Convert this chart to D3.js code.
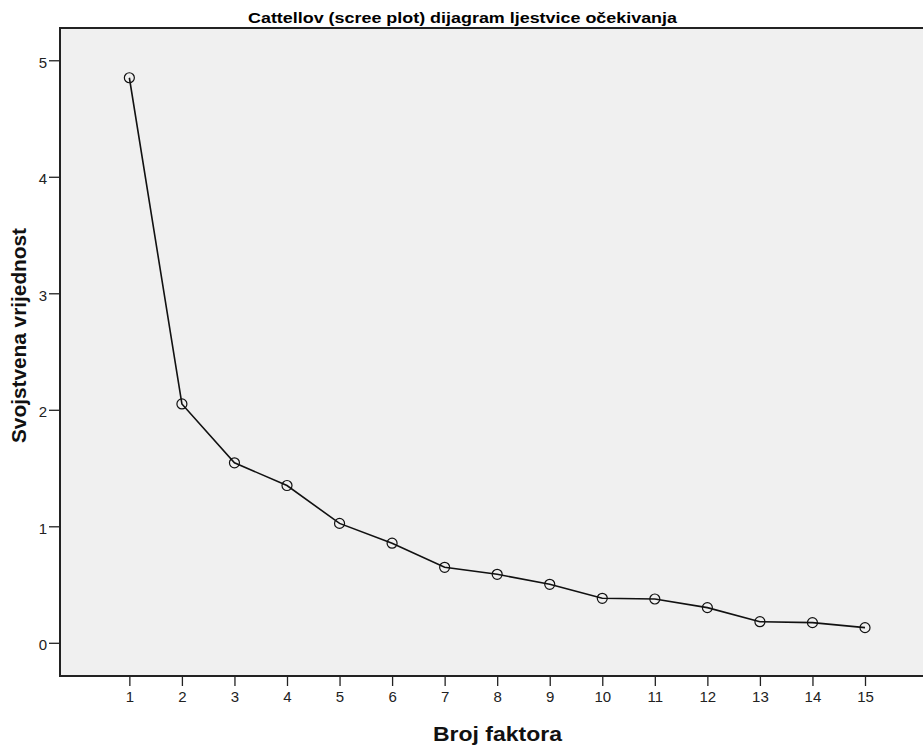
<!DOCTYPE html>
<html><head><meta charset="utf-8">
<script src="https://cdn.jsdelivr.net/npm/d3@7"></script>
<style>body{margin:0;background:#fff}svg{display:block}text{font-family:Arial,"Liberation Sans",sans-serif}</style>
</head><body><svg id="c" width="923" height="747"></svg>
<script>
const factors = [1,2,3,4,5,6,7,8,9,10,11,12,13,14,15];
const eigenvalues = [4.85,2.05,1.545,1.35,1.025,0.855,0.648,0.588,0.502,0.382,0.376,0.302,0.181,0.173,0.130];
const yTicks = [0,1,2,3,4,5];
const title = "Cattellov (scree plot) dijagram ljestvice očekivanja";
const xTitle = "Broj faktora";
const yTitle = "Svojstvena vrijednost";

const svg = d3.select("#c");
const L=60, T=28, R=923, B=676;
const x = d3.scaleLinear().domain([-0.32, 15.0+ (R-865)/52.55]).range([L,R]);
const y = d3.scaleLinear().domain([-0.285, 5.277]).range([B,T]);

svg.append("rect").attr("x",L).attr("y",T).attr("width",R-L).attr("height",B-T).attr("fill","#f0f0f0");

const xa = svg.append("g").attr("transform",`translate(0,${B})`)
  .call(d3.axisBottom(x).tickValues(factors).tickSize(10).tickPadding(5).tickFormat(d3.format("d")));
xa.select(".domain").remove();
xa.selectAll("line").attr("stroke","#222").attr("stroke-width",1.3);
xa.selectAll("text").attr("font-size",15).attr("fill","#222");

const ya = svg.append("g").attr("transform",`translate(${L},0)`)
  .call(d3.axisLeft(y).tickValues(yTicks).tickSize(11).tickPadding(2).tickFormat(d3.format("d")));
ya.select(".domain").remove();
ya.selectAll("line").attr("stroke","#222").attr("stroke-width",1.3);
ya.selectAll("text").attr("font-size",15).attr("fill","#222").attr("dy","0.45em");

svg.append("line").attr("x1",L).attr("x2",R).attr("y1",T).attr("y2",T).attr("stroke","#222").attr("stroke-width",2);
svg.append("line").attr("x1",L).attr("x2",R).attr("y1",B).attr("y2",B).attr("stroke","#222").attr("stroke-width",2);
svg.append("line").attr("x1",L).attr("x2",L).attr("y1",T-1).attr("y2",B+1).attr("stroke","#222").attr("stroke-width",2);

const data = factors.map((f,i)=>({f,v:eigenvalues[i]}));
svg.append("path").datum(data)
  .attr("d", d3.line().x(d=>x(d.f)).y(d=>y(d.v)))
  .attr("fill","none").attr("stroke","#111").attr("stroke-width",1.6);
svg.selectAll("circle.pt").data(data).join("circle").attr("class","pt")
  .attr("cx",d=>x(d.f)).attr("cy",d=>y(d.v)).attr("r",5)
  .attr("fill","none").attr("stroke","#111").attr("stroke-width",1.2);

svg.append("text").attr("x",462.5).attr("y",23).attr("text-anchor","middle")
  .attr("font-size",15).attr("font-weight","bold").attr("fill","#000")
  .attr("textLength",429).attr("lengthAdjust","spacingAndGlyphs").text(title);
svg.append("text").attr("x",497.5).attr("y",741).attr("text-anchor","middle")
  .attr("font-size",20).attr("font-weight","bold").attr("fill","#111")
  .attr("textLength",129).attr("lengthAdjust","spacingAndGlyphs").text(xTitle);
svg.append("text").attr("transform","translate(26,335.5) rotate(-90)").attr("text-anchor","middle")
  .attr("font-size",20).attr("font-weight","bold").attr("fill","#111")
  .attr("textLength",215).attr("lengthAdjust","spacingAndGlyphs").text(yTitle);
</script></body></html>
